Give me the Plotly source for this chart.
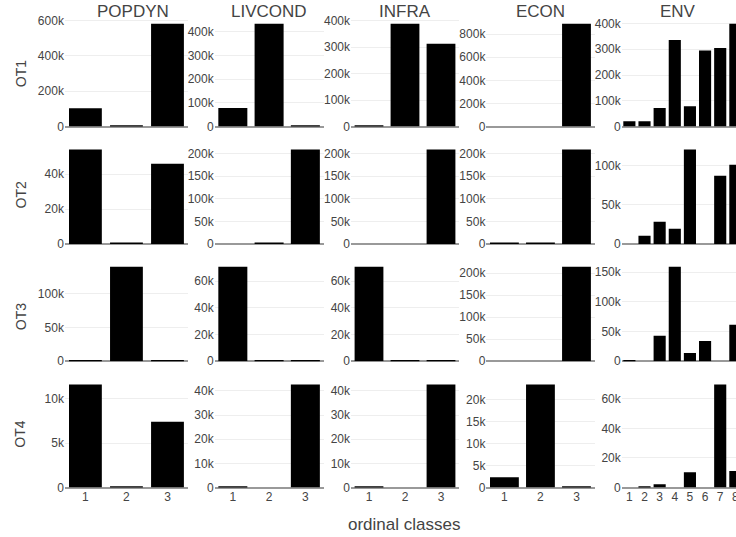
import plotly.graph_objects as go

# Column groups, row groups and ordinal classes
groups = ["POPDYN", "LIVCOND", "INFRA", "ECON", "ENV"]
row_names = ["OT1", "OT2", "OT3", "OT4"]
classes_3 = [1, 2, 3]
classes_8 = [1, 2, 3, 4, 5, 6, 7, 8]

# Counts per ordinal class, one small table per row
OT1 = {
    "POPDYN": [104000, 5000, 581000],
    "LIVCOND": [78000, 434000, 4000],
    "INFRA": [3800, 389000, 313000],
    "ECON": [0, 0, 890000],
    "ENV": [21000, 21000, 72500, 336000, 79000, 295000, 305000, 399000],
}
OT2 = {
    "POPDYN": [54200, 500, 46100],
    "LIVCOND": [0, 2200, 209000],
    "INFRA": [0, 0, 209000],
    "ECON": [2200, 2200, 209000],
    "ENV": [0, 10300, 28300, 19300, 121000, 0, 87500, 101600],
}
OT3 = {
    "POPDYN": [1500, 139500, 1500],
    "LIVCOND": [70600, 760, 760],
    "INFRA": [70600, 760, 760],
    "ECON": [0, 0, 214600],
    "ENV": [1700, 0, 42800, 159000, 13700, 34200, 0, 61600],
}
OT4 = {
    "POPDYN": [11600, 110, 7420],
    "LIVCOND": [420, 0, 42600],
    "INFRA": [420, 0, 42600],
    "ECON": [2360, 23500, 230],
    "ENV": [0, 700, 2250, 0, 10400, 0, 69700, 11100],
}
tables = [OT1, OT2, OT3, OT4]

# Page geometry (pixels)
W, H = 736, 537
col_px = [(64.9, 188.0), (214.7, 323.5), (351.0, 459.0), (486.4, 594.5), (621.8, 736.0)]
row_px = [(18.3, 126.6), (144.6, 243.9), (261.9, 361.2), (379.2, 487.5)]
env_step = 15.14  # pixels per ordinal class in the ENV panels
title_x = [132.6, 269.2, 404.8, 540.5, 677.5]
row_title_y = [73.7, 195.0, 316.7, 434.2]

FONT = "Liberation Sans, Arial, sans-serif"
TXT = "#444444"

fig = go.Figure()
layout = {}

for r, table in enumerate(tables):
    for c, g in enumerate(groups):
        k = r * 5 + c + 1
        sfx = "" if k == 1 else str(k)
        xs = classes_8 if g == "ENV" else classes_3
        fig.add_trace(go.Bar(
            x=xs, y=table[g],
            xaxis="x" + sfx, yaxis="y" + sfx,
            marker=dict(color="black", line=dict(width=0)),
            showlegend=False,
        ))
        x0, x1 = col_px[c]
        y0, y1 = row_px[r]
        if g == "ENV":
            xr = [0.5, 0.5 + (x1 - x0) / env_step]
        else:
            xr = [0.5, len(xs) + 0.5]
        layout["xaxis" + sfx] = dict(
            domain=[x0 / W, x1 / W],
            anchor="y" + sfx,
            range=xr,
            tickmode="array",
            tickvals=xs,
            showticklabels=(r == 3),
            ticklabeloverflow="allow",
            showgrid=False, zeroline=False, showline=False, ticks="",
            tickfont=dict(size=12, color=TXT, family=FONT),
            automargin=False,
        )
        layout["yaxis" + sfx] = dict(
            domain=[1 - y1 / H, 1 - y0 / H],
            anchor="x" + sfx,
            showgrid=True, gridcolor="#eeeeee", gridwidth=1,
            zeroline=True, zerolinecolor="#999999", zerolinewidth=2,
            showline=False, ticks="",
            tickfont=dict(size=12, color=TXT, family=FONT),
            ticklabeloverflow="allow",
            automargin=False,
        )

annotations = []
for c, g in enumerate(groups):
    annotations.append(dict(
        text=g, x=title_x[c] / W, y=1 - 12 / H, xref="paper", yref="paper",
        xanchor="center", yanchor="middle", showarrow=False,
        font=dict(size=17, color=TXT, family=FONT),
    ))
for r, name in enumerate(row_names):
    annotations.append(dict(
        text=name, x=20.5 / W, y=1 - row_title_y[r] / H, xref="paper", yref="paper",
        xanchor="center", yanchor="middle", textangle=-90, showarrow=False,
        font=dict(size=14, color=TXT, family=FONT),
    ))
annotations.append(dict(
    text="ordinal classes", x=404.3 / W, y=1 - 524 / H, xref="paper", yref="paper",
    xanchor="center", yanchor="middle", showarrow=False,
    font=dict(size=17, color=TXT, family=FONT),
))

fig.update_layout(
    **layout,
    annotations=annotations,
    width=W, height=H, autosize=False,
    margin=dict(l=0, r=0, t=0, b=0, pad=0),
    template="none",
    paper_bgcolor="white", plot_bgcolor="white",
    bargap=0.2,
    font=dict(family=FONT, size=12, color=TXT),
)

fig.write_html("out.html")
